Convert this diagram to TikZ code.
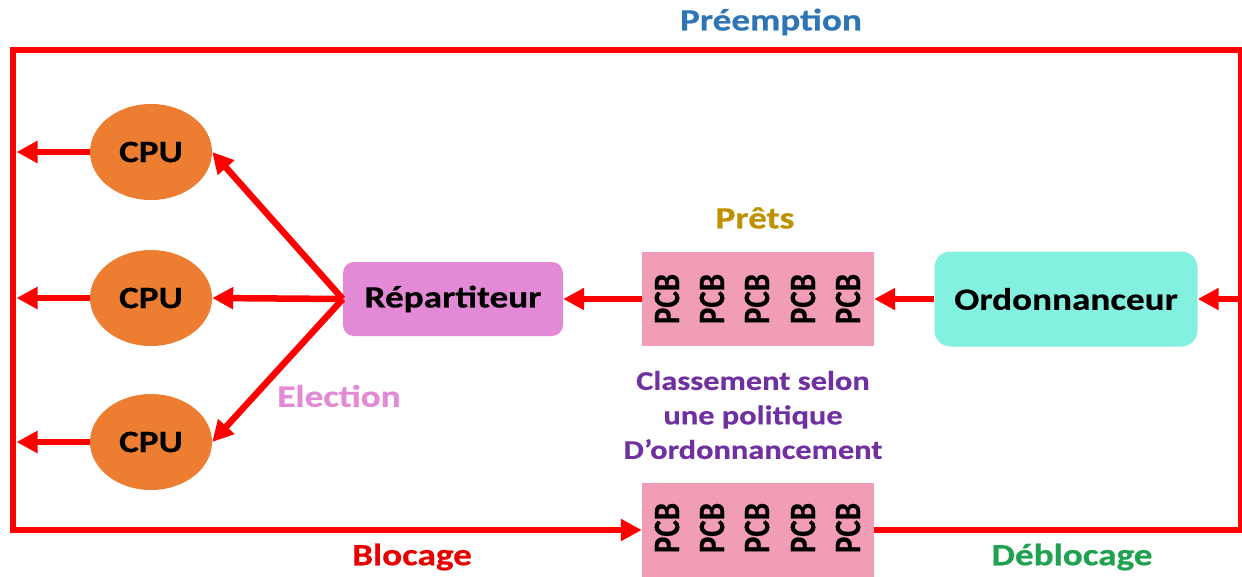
\documentclass[tikz,border=0pt]{standalone}
\usepackage{fontspec}
\usepackage{graphicx}
\setmainfont{Carlito}[FakeStretch=1.2, BoldFeatures={FakeBold=0.5}]
\newfontfamily\pcbfont{Carlito}[BoldFeatures={FakeBold=0.5}]
\usetikzlibrary{arrows.meta,shapes.geometric,calc}

\definecolor{cpuorange}{HTML}{ED7D31}
\definecolor{reppink}{HTML}{E38AD6}
\definecolor{pcbpink}{HTML}{F29DB6}
\definecolor{ordaqua}{HTML}{84F0DF}
\definecolor{linkred}{HTML}{FF0000}
\definecolor{preblue}{HTML}{2E75B6}
\definecolor{pretgold}{HTML}{BF9000}
\definecolor{polpurple}{HTML}{7030A0}
\definecolor{elecpink}{HTML}{E38AD6}
\definecolor{blocred}{HTML}{E60000}
\definecolor{debgreen}{HTML}{1FA24F}

\begin{document}
\begin{tikzpicture}[x=1pt,y=-1pt,
  lab/.style={font=\bfseries\fontsize{31}{36}\selectfont, text=black},
  cpunode/.style={ellipse, fill=cpuorange, minimum width=122pt, minimum height=96pt, inner sep=0pt, lab},
  boxnode/.style={rectangle, inner sep=0pt, lab},
  pcbbox/.style={rectangle, fill=pcbpink, minimum width=232pt, minimum height=94pt, inner sep=0pt},
  pcbtext/.style={rotate=90, inner sep=0pt, font=\pcbfont\bfseries\fontsize{31}{36}\selectfont},
  caption/.style={font=\bfseries\fontsize{31}{36}\selectfont, inner sep=0pt},
  arr/.style={draw=linkred, line width=6.5pt, -{Triangle[length=21pt,width=21pt]}},
  frame/.style={draw=linkred, line width=6.5pt, line join=miter, -{Triangle[length=21pt,width=21pt]}}
]
\useasboundingbox (0,0) rectangle (1242,576);

% corners of the outer loop and the edge the CPU arrows stop at
\coordinate (tl) at (13,50);
\coordinate (tr) at (1241,50);
\coordinate (bl) at (13,530);
\coordinate (br) at (1241,530);
\coordinate (edgeL) at (16.5,0);

% processors
\node[cpunode] (cpu1) at (151,152) {CPU};
\node[cpunode] (cpu2) at (151,298) {CPU};
\node[cpunode] (cpu3) at (151,442) {CPU};

% dispatcher and scheduler
\node[boxnode, fill=reppink, rounded corners=11pt, minimum width=220pt, minimum height=74pt] (rep) at (453,299) {Répartiteur};
\node[boxnode, fill=ordaqua, rounded corners=16pt, minimum width=263pt, minimum height=95pt] (ord) at (1066,299) {Ordonnanceur};

% ready queue
\node[pcbbox] (ready) at (758,299) {};
\foreach \i/\x in {1/667,2/712,3/757,4/803,5/848}
  \node[pcbtext] (r\i) at (\x,299) {\scalebox{1}[1.2]{PCB}};

% blocked queue
\node[pcbbox] (blocked) at (758,530) {};
\foreach \i/\x in {1/667,2/712,3/757,4/803,5/848}
  \node[pcbtext] (b\i) at (\x,528) {\scalebox{1}[1.2]{PCB}};

% labels
\node[caption, text=preblue] (lpre) at (771,22) {Préemption};
\node[caption, text=pretgold] (lpret) at (755,218) {Prêts};
\node[caption, text=polpurple, align=center, font=\bfseries\fontsize{27}{34.5}\selectfont] (lpol) at (753,415)
  {Classement selon\\une politique\\D’ordonnancement};
\node[caption, text=elecpink] (lelec) at (339,396) {Election};
\node[caption, text=blocred] (lbloc) at (412,557) {Blocage};
\node[caption, text=debgreen] (ldeb) at (1072,557) {Déblocage};

% election arrows
\draw[arr] (rep.west) -- (cpu1.east);
\draw[arr] (rep.west) -- (cpu2.east);
\draw[arr] (rep.west) -- (cpu3.east);

% CPUs back to the loop
\draw[arr] (cpu1.west) -- (cpu1.west -| edgeL);
\draw[arr] (cpu2.west) -- (cpu2.west -| edgeL);
\draw[arr] (cpu3.west) -- (cpu3.west -| edgeL);

% queue flow
\draw[arr] (ready.west) -- (rep.east);
\draw[arr] (ord.west) -- (ready.east);
\draw[arr] (ord.east -| tr) -- (ord.east);

% outer loop: unblocking, preemption, blocking
\draw[frame] (blocked.east) -- (br) -- (tr) -- (tl) -- (bl) -- (blocked.west);
\end{tikzpicture}
\end{document}
